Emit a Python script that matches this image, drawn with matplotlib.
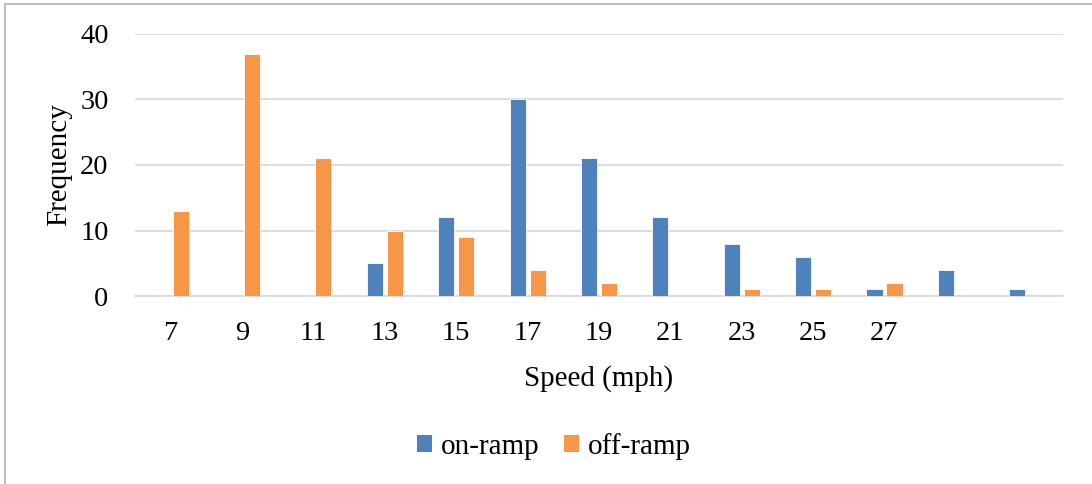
import matplotlib.pyplot as plt
import numpy as np
from matplotlib.lines import Line2D

speeds = ['7', '9', '11', '13', '15', '17', '19', '21', '23', '25', '27', '', '']
on_ramp = [0, 0, 0, 5, 12, 30, 21, 12, 8, 6, 1, 4, 1]
off_ramp = [13, 37, 21, 10, 9, 4, 2, 0, 1, 1, 2, 0, 0]

BLUE = '#4f81bd'
ORANGE = '#f79646'
GRID = '#d9d9d9'

plt.rcParams['font.family'] = ['Liberation Serif', 'DejaVu Serif']

fig = plt.figure(figsize=(10.92, 4.84), dpi=100)
ax = fig.add_axes([0.1236, 0.3884, 0.8498, 0.5414])

x = np.arange(len(speeds))
width = 0.225
off = 0.14
ax.bar(x - off, on_ramp, width, color=BLUE, edgecolor='white', linewidth=0.6, label='on-ramp', zorder=3)
ax.bar(x + off, off_ramp, width, color=ORANGE, edgecolor='white', linewidth=0.6, label='off-ramp', zorder=3)

ax.set_xlim(-0.5, len(speeds) - 0.5)
ax.set_ylim(0, 40)
ax.set_yticks([0, 10, 20, 30, 40])
ax.set_xticks(x)
ax.set_xticklabels(speeds)
ax.yaxis.grid(True, color=GRID, linewidth=1.3, zorder=0)
ax.set_axisbelow(True)
for s in ['top', 'right', 'left']:
    ax.spines[s].set_visible(False)
ax.spines['bottom'].set_color(GRID)
ax.spines['bottom'].set_linewidth(1.3)
ax.tick_params(axis='both', length=0, labelsize=20.5)
ax.tick_params(axis='y', pad=19)
ax.tick_params(axis='x', pad=18)

ax.set_ylabel('Frequency', fontsize=21, labelpad=6)
ax.set_xlabel('Speed (mph)', fontsize=21, labelpad=14)

leg = fig.legend(loc='center', bbox_to_anchor=(0.507, 0.078), ncol=2, frameon=False,
                 fontsize=21, handlelength=0.52, handleheight=0.52, handletextpad=0.3,
                 columnspacing=0.85)
for h in leg.legend_handles:
    h.set_linewidth(0)

# thin frame along the left and top edges
fig.add_artist(Line2D([5 / 1092, 5 / 1092], [0, 1 - 4 / 484], transform=fig.transFigure,
                      color='#bfbfbf', linewidth=1.5))
fig.add_artist(Line2D([5 / 1092, 1], [1 - 4 / 484, 1 - 4 / 484], transform=fig.transFigure,
                      color='#bfbfbf', linewidth=1.5))

fig.savefig('out.png', dpi=100, facecolor='white')
